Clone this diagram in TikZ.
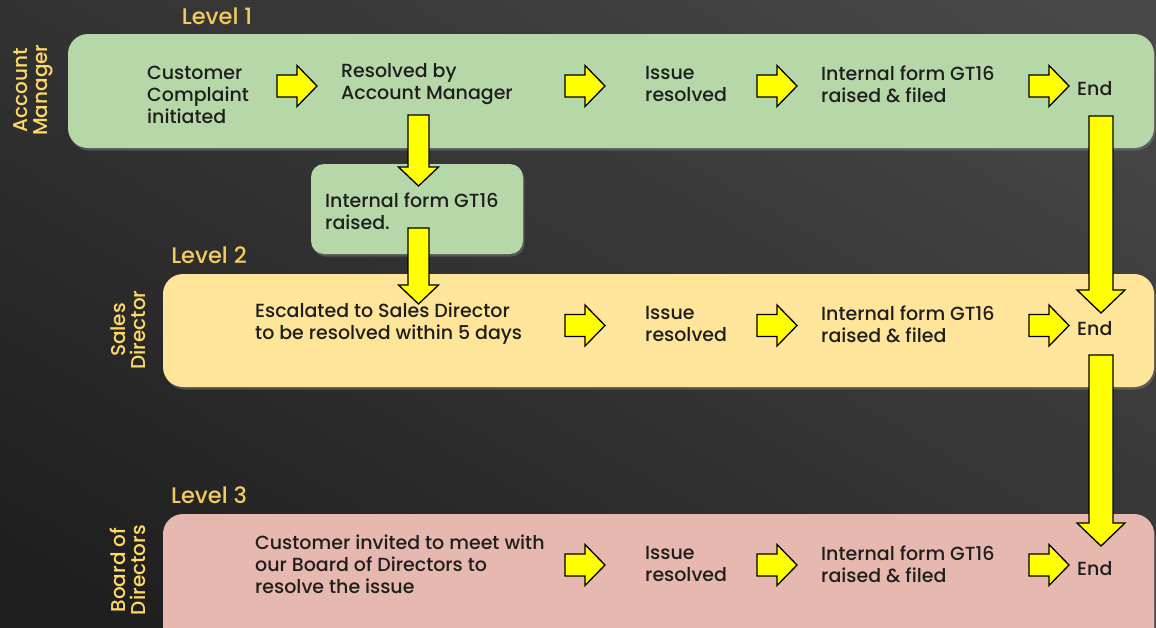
\documentclass[tikz,border=0pt]{standalone}
\usepackage{fontspec}
\IfFontExistsTF{Poppins Medium}{\setmainfont{Poppins Medium}}{\setmainfont{Poppins}}
\usetikzlibrary{shadows}
\definecolor{lanegreen}{HTML}{B6D7A8}
\definecolor{laneyellow}{HTML}{FFE599}
\definecolor{lanepink}{HTML}{E6B8AF}
\definecolor{arrowy}{HTML}{FFFF00}
\definecolor{txtc}{HTML}{1E1E1E}
\definecolor{lvlc}{HTML}{F3CB5F}
\definecolor{rolec}{HTML}{FFD966}
\definecolor{bgA}{HTML}{484848}
\definecolor{bgB}{HTML}{1E1E1E}
\newcommand\vblock[6]{%
  \draw[blk] ({#1-#4},#2) -- ({#1+#4},#2) -- ({#1+#4},{#3-#6}) -- ({#1+#5},{#3-#6}) -- (#1,#3) -- ({#1-#5},{#3-#6}) -- ({#1-#4},{#3-#6}) -- cycle;}
\newcommand\hblock[2]{%
  \draw[blk] (#1,{#2-11}) -- ({#1+20},{#2-11}) -- ({#1+20},{#2-20.5}) -- ({#1+40},#2) -- ({#1+20},{#2+20.5}) -- ({#1+20},{#2+11}) -- (#1,{#2+11}) -- cycle;}
\begin{document}
\begin{tikzpicture}[x=1pt,y=-1pt,
  lane/.style={rectangle, rounded corners=20pt, inner sep=0pt,
    drop shadow={shadow xshift=1.5pt, shadow yshift=-2.5pt, opacity=0.45}},
  txt/.style={anchor=west, align=left, inner sep=0pt, text=txtc, font=\fontsize{19}{22}\selectfont},
  lvl/.style={text=lvlc, inner sep=0pt, font=\fontsize{22.5}{24}\selectfont},
  role/.style={text=rolec, rotate=90, align=center, inner sep=0pt, font=\fontsize{20}{20}\selectfont},
  blk/.style={fill=arrowy, draw=black, line width=1.3pt, line join=miter}]
\useasboundingbox (0pt,0pt) rectangle (1156pt,-627pt);
\shade[left color=bgA, right color=bgB, shading angle=-30]
  (-100pt,100pt) rectangle (1256pt,-727pt);
\begin{scope}
\clip (0pt,0pt) rectangle (1156pt,-627pt);
% lanes
\node[lane, fill=lanegreen, minimum width=1086pt, minimum height=114pt] (lane1) at (611,91) {};
\node[lane, fill=laneyellow, minimum width=991pt, minimum height=113pt] (lane2) at (658.5,330.5) {};
\node[lane, fill=lanepink, minimum width=991pt, minimum height=140pt] (lane3) at (658.5,584) {};
\node[lane, fill=lanegreen, rounded corners=13pt, minimum width=212pt, minimum height=90pt] (gt) at (417,209) {};
\end{scope}
% level labels
\node[lvl] (l1) at (217,16) {Level 1};
\node[lvl] (l2) at (209,255) {Level 2};
\node[lvl] (l3) at (209,495) {Level 3};
% role labels
\node[role] (r1) at (33,90) {Account\\Manager};
\node[role] (r2) at (128,330) {Sales\\Director};
\node[role] (r3) at (128,570) {Board of\\Directors};
% level 1 texts
\node[txt] (a1) at (147,95) {Customer\\Complaint\\initiated};
\node[txt] (a2) at (341,84) {Resolved by\\Account Manager};
\node[txt] (a3) at (645,84) {Issue\\resolved};
\node[txt] (a4) at (821,84) {Internal form GT16\\raised \& filed};
\node[txt] (a5) at (1077,89) {End};
\node[txt] (g1) at (325,211) {Internal form GT16\\raised.};
% level 2
\node[txt] (b1) at (255,324) {Escalated to Sales Director\\to be resolved within 5 days};
\node[txt] (b3) at (645,324) {Issue\\resolved};
\node[txt] (b4) at (821,324) {Internal form GT16\\raised \& filed};
\node[txt] (b5) at (1077,329) {End};
% level 3
\node[txt] (c1) at (255,564) {Customer invited to meet with\\our Board of Directors to\\resolve the issue};
\node[txt] (c3) at (645,564) {Issue\\resolved};
\node[txt] (c4) at (821,564) {Internal form GT16\\raised \& filed};
\node[txt] (c5) at (1077,569) {End};
% horizontal block arrows
\hblock{277}{86}\hblock{565}{86}\hblock{757}{86}\hblock{1029}{86}
\hblock{565}{325.5}\hblock{757}{325.5}\hblock{1029}{325.5}
\hblock{565}{565}\hblock{757}{565}\hblock{1029}{565}
% vertical block arrows
\vblock{418.5}{115}{186}{10.5}{20}{19}
\vblock{418.5}{228}{304}{10.5}{20}{19}
\vblock{1101}{116}{313}{12}{24}{23}
\vblock{1101}{355}{546}{12}{24}{23}
\end{tikzpicture}
\end{document}
